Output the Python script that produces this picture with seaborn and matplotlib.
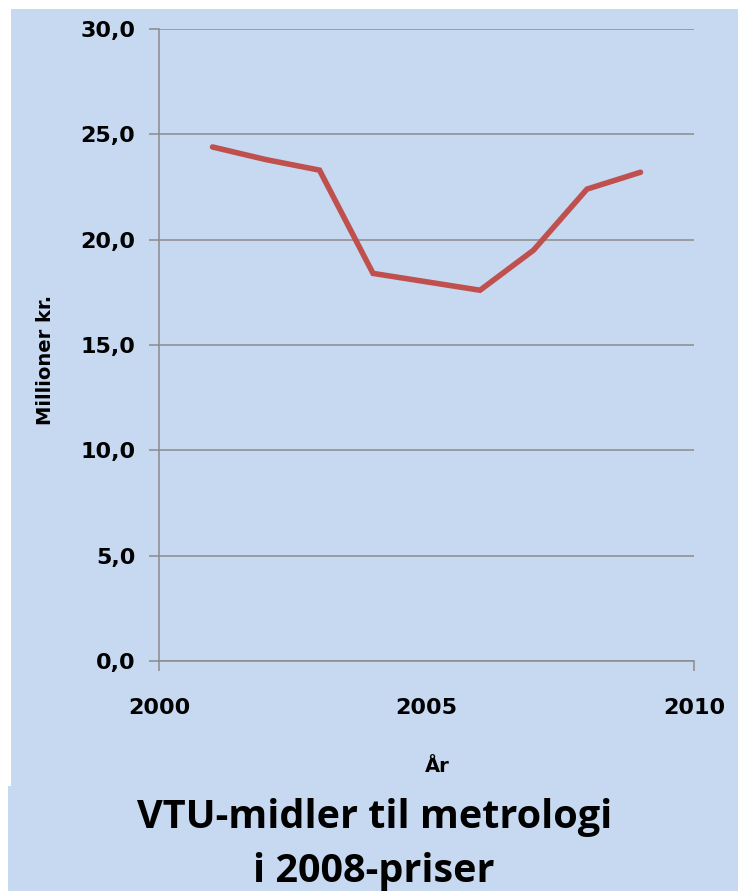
import pandas as pd
import seaborn as sns
import matplotlib.pyplot as plt
from matplotlib.patches import Rectangle
from matplotlib.ticker import FuncFormatter

# data
years = [2001, 2002, 2003, 2004, 2005, 2006, 2007, 2008, 2009]
values = [24.4, 23.8, 23.3, 18.4, 18.0, 17.6, 19.5, 22.4, 23.2]
y_ticks = [0, 5, 10, 15, 20, 25, 30]
x_ticks = [2000, 2005, 2010]

df = pd.DataFrame({'year': years, 'value': values})

bg = '#c6d9f1'
grid_col = '#8c8c8c'

sns.set_theme(style='white')
plt.rcParams['font.family'] = ['DejaVu Sans']
plt.rcParams['text.color'] = 'black'

fig = plt.figure(figsize=(7.38, 8.91), dpi=100, facecolor='white')
# blue panel with thin white margins (top/left)
fig.add_artist(Rectangle((11/738, 104/891), 1 - 11/738, 1 - 9/891 - 104/891,
                         transform=fig.transFigure, facecolor=bg, edgecolor='none', zorder=0))
fig.add_artist(Rectangle((8/738, 0), 1 - 8/738, 105/891,
                         transform=fig.transFigure, facecolor=bg, edgecolor='none', zorder=0))

ax = fig.add_axes([159/738, 1 - 661/891, 535/738, 632/891])
ax.set_facecolor('none')

sns.lineplot(data=df, x='year', y='value', ax=ax, color='#c0504d', linewidth=4,
             solid_joinstyle='miter', solid_capstyle='round')

ax.set_xlim(2000, 2010)
ax.set_ylim(0, 30)
ax.set_yticks(y_ticks)
ax.set_xticks(x_ticks)
ax.yaxis.set_major_formatter(FuncFormatter(lambda v, p: f'{v:.1f}'.replace('.', ',')))

# gridlines only horizontal
ax.yaxis.grid(True, color=grid_col, linewidth=1.1)
ax.xaxis.grid(False)
ax.set_axisbelow(True)

for s in ['top', 'right']:
    ax.spines[s].set_visible(False)
for s in ['left', 'bottom']:
    ax.spines[s].set_color(grid_col)
    ax.spines[s].set_linewidth(1.1)

ax.tick_params(axis='y', direction='out', length=7, width=1.1, color=grid_col, pad=10,
               labelsize=16, left=True, labelcolor='black')
ax.tick_params(axis='x', direction='out', length=7, width=1.1, color=grid_col, pad=20,
               labelsize=16, bottom=True, labelcolor='black')
# no tick mark at 2005
ax.xaxis.get_major_ticks()[1].tick1line.set_visible(False)
for lab in ax.get_xticklabels() + ax.get_yticklabels():
    lab.set_fontweight('bold')

ax.set_xlabel('År', fontsize=14, fontweight='bold', color='black')
ax.set_ylabel('Millioner kr.', fontsize=14, fontweight='bold', color='black')
ax.xaxis.set_label_coords(0.52, -0.152)
ax.yaxis.set_label_coords(-0.195, 0.477)

fig.text(375/738, 1 - 828/891, 'VTU-midler til metrologi', ha='center', va='baseline',
         fontsize=28.5, fontweight='bold', color='black', family=['Open Sans', 'DejaVu Sans'])
fig.text(374/738, 1 - 882/891, 'i 2008-priser', ha='center', va='baseline',
         fontsize=28.5, fontweight='bold', color='black', family=['Open Sans', 'DejaVu Sans'])

fig.savefig('out.png', dpi=100, facecolor=fig.get_facecolor())
